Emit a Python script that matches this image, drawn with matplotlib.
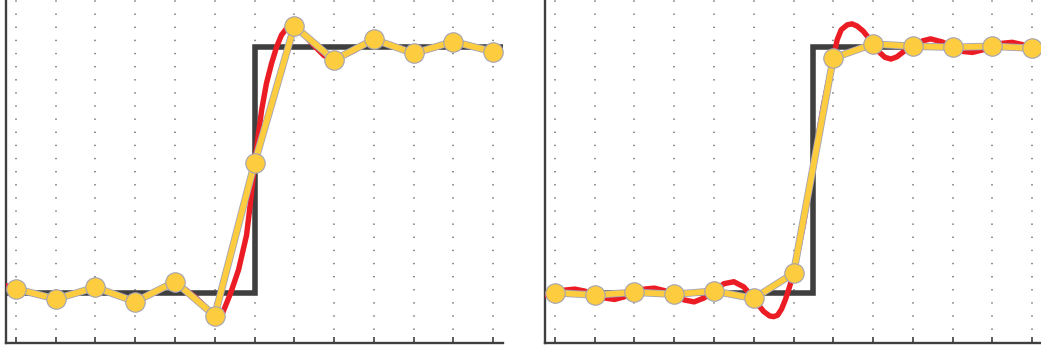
"""
Two panels: step reference, sampled points and the smooth reconstruction.
"""

import matplotlib
matplotlib.use('Agg')
import matplotlib.pyplot as plt
import matplotlib.patheffects as pe

#######################################################################################################################
# Data (sample index on x, step height 1)

samples_t = list(range(13))

# left panel
left_step_t = [-0.25, 6, 6, 12.25]
left_step_v = [0, 0, 1, 1]
left_samples = [0.017, -0.024, 0.023, -0.035, 0.046, -0.092, 0.527,
                1.085, 0.947, 1.031, 0.974, 1.022, 0.981]
left_curve_t = [-0.25, 0, 0.5, 1, 1.5, 2, 2.5, 3, 3.5, 4, 4.5, 5, 5.1, 5.2, 5.4, 5.6, 5.8, 5.9, 6,
                6.18, 6.3, 6.43, 6.56, 6.68, 6.81, 6.93, 7, 7.25, 7.5, 7.75, 8, 8.5, 9, 9.5,
                10, 10.5, 11, 11.5, 12, 12.25]
left_curve_v = [0.03, 0.017, -0.005, -0.024, -0.002, 0.023, -0.008, -0.035, 0.002, 0.046,
                -0.015, -0.092, -0.1, -0.08, 0.0, 0.095, 0.235, 0.37, 0.527,
                0.744, 0.852, 0.934, 1.002, 1.049, 1.076, 1.089, 1.085, 1.05, 1.005, 0.965,
                0.947, 0.985, 1.031, 1.005, 0.974, 0.995, 1.022, 1.0, 0.981, 0.975]

# right panel
right_step_t = [-0.25, 6.5, 6.5, 12.25]
right_step_v = [0, 0, 1, 1]
right_samples = [0.001, -0.008, 0.003, -0.005, 0.008, -0.022, 0.080,
                 0.955, 1.012, 1.003, 0.999, 1.003, 0.995]
right_curve_t = [-0.25, 0, 0.25, 0.5, 0.75, 1, 1.25, 1.5, 1.75, 2, 2.25, 2.5, 2.75, 3,
                 3.25, 3.5, 3.75, 4, 4.25, 4.5, 4.75, 5, 5.1, 5.25, 5.4, 5.5, 5.6, 5.7,
                 5.8, 5.9, 6, 6.25, 6.5, 6.75, 7, 7.1, 7.2, 7.35, 7.47, 7.6, 7.75, 7.9, 8,
                 8.15, 8.3, 8.45, 8.6, 8.8, 9, 9.25, 9.45, 9.75, 10, 10.25, 10.5, 10.75,
                 11, 11.25, 11.5, 11.75, 12, 12.25]
right_curve_v = [-0.01, 0.001, 0.012, 0.016, 0.008, -0.008, -0.02, -0.026, -0.015, 0.003,
                 0.016, 0.02, 0.01, -0.005, -0.028, -0.036, -0.02, 0.008, 0.038, 0.046,
                 0.025, -0.022, -0.045, -0.075, -0.093, -0.096, -0.09, -0.065,
                 -0.025, 0.025, 0.08, 0.28, 0.52, 0.76, 0.955, 1.03, 1.07, 1.09, 1.094,
                 1.085, 1.065, 1.035, 1.012, 0.98, 0.958, 0.951, 0.96, 0.985, 1.003,
                 1.025, 1.033, 1.02, 0.999, 0.982, 0.978, 0.988, 1.003, 1.015, 1.019,
                 1.01, 0.995, 0.985]

DARK = '#3f3f3f'
RED = '#ec1c24'
YELLOW = '#fdcc3f'
EDGE = '#a3a3b5'


def draw_panel(ax, step_t, step_v, curve_t, curve_v, sample_v):
    ax.plot(step_t, step_v, color=DARK, lw=4.0, solid_joinstyle='miter', zorder=2)
    ax.plot(curve_t, curve_v, color=RED, lw=3.9, solid_capstyle='round',
            solid_joinstyle='round', zorder=3)
    ax.plot(samples_t, sample_v, color=YELLOW, lw=4.1, solid_joinstyle='round', zorder=4,
            path_effects=[pe.Stroke(linewidth=5.3, foreground=EDGE), pe.Normal()])
    ax.plot(samples_t, sample_v, 'o', ms=14, mfc=YELLOW, mec=EDGE, mew=0.8, zorder=5)

    ax.set_xlim(-0.25, 12.25)
    ax.set_ylim(-0.203, 1.191)
    ax.set_xticks(samples_t)
    ax.set_xticklabels([])
    ax.set_yticks([])
    ax.tick_params(axis='x', direction='in', length=4.0, width=1.2, color=DARK)
    ax.grid(axis='x', color='#6e6e6e', lw=1.1, linestyle=(0, (1.0, 8.45)))
    for side in ['top', 'right']:
        ax.spines[side].set_visible(False)
    for side in ['left', 'bottom']:
        ax.spines[side].set_color(DARK)
        ax.spines[side].set_linewidth(1.7)
    ax.set_axisbelow(True)


#######################################################################################################################
# Code execution

if __name__ == "__main__":

    plt.rcParams['lines.scale_dashes'] = False

    fig = plt.figure(figsize=(10.41, 3.47), dpi=100)
    ax1 = fig.add_axes([6 / 1041, 4 / 347, 497 / 1041, 343 / 347])
    ax2 = fig.add_axes([545 / 1041, 4 / 347, 497 / 1041, 343 / 347])

    draw_panel(ax1, left_step_t, left_step_v, left_curve_t, left_curve_v, left_samples)
    draw_panel(ax2, right_step_t, right_step_v, right_curve_t, right_curve_v, right_samples)

    fig.savefig('out.png', dpi=100)
